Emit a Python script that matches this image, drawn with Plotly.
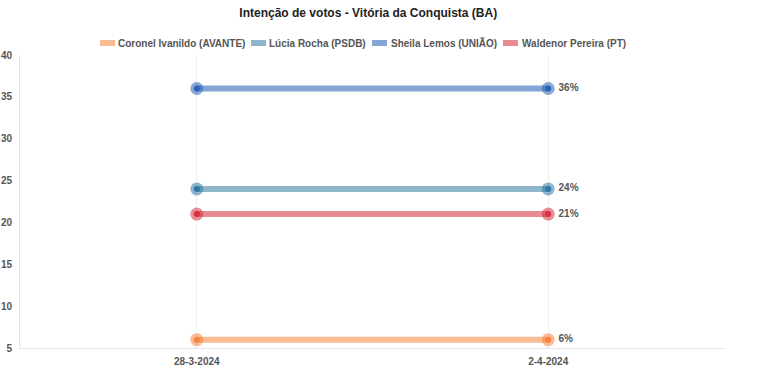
import plotly.graph_objects as go

dates = ["28-3-2024", "2-4-2024"]
candidates = ["Coronel Ivanildo (AVANTE)", "Lúcia Rocha (PSDB)", "Sheila Lemos (UNIÃO)", "Waldenor Pereira (PT)"]
coronel = [6, 6]
lucia = [24, 24]
sheila = [36, 36]
waldenor = [21, 21]
series = [coronel, lucia, sheila, waldenor]

light_colors = ["#f9bb93", "#8fb5cb", "#86a5d5", "#e98a93"]
ring_colors = ["rgba(245,132,63,0.55)", "rgba(48,121,166,0.55)", "rgba(43,98,182,0.55)", "rgba(213,49,63,0.55)"]
dark_colors = ["#f5843f", "#3079a6", "#2b62b6", "#d5313f"]

FONT = "Liberation Sans, Arial"

W, H = 768, 370
ML, MR, MT, MB = 20, 43, 55, 22
PLOT_W = W - ML - MR
PLOT_H = H - MT - MB

fig = go.Figure()
for name, vals, lc, rc, dc in zip(candidates, series, light_colors, ring_colors, dark_colors):
    fig.add_trace(go.Scatter(
        x=dates, y=vals, name=name, mode="lines",
        line=dict(color=lc, width=6),
        showlegend=False, hoverinfo="skip",
    ))
    fig.add_trace(go.Scatter(
        x=dates, y=vals, name=name, mode="markers",
        marker=dict(size=13, color=rc, line=dict(width=0)),
        showlegend=False, hoverinfo="skip",
    ))
    fig.add_trace(go.Scatter(
        x=dates, y=vals, name=name, mode="markers+text",
        marker=dict(size=6, color=dc),
        text=["", f"  {vals[-1]}%"], textposition="middle right",
        textfont=dict(family=FONT, size=10, color="#555555", weight="bold"),
        showlegend=False,
    ))

# custom legend (pixel positions of swatches and texts)
legend_swatch_px = [100, 251, 372, 503]
legend_text_px = [117, 268, 390, 521]
legend_y_px = 43
for name, lc, sx, tx in zip(candidates, light_colors, legend_swatch_px, legend_text_px):
    xa = (sx - ML) / PLOT_W
    ya = 1 + (MT - legend_y_px) / PLOT_H
    fig.add_shape(type="rect", xref="paper", yref="paper",
                  xsizemode="pixel", ysizemode="pixel",
                  xanchor=xa, yanchor=ya, x0=0, x1=15, y0=-3, y1=3,
                  fillcolor=lc, line=dict(width=0))
    fig.add_annotation(text=f"<b>{name}</b>", xref="paper", yref="paper",
                       x=(tx - ML) / PLOT_W, y=ya, xanchor="left", yanchor="middle",
                       showarrow=False, borderpad=0,
                       font=dict(family=FONT, size=10, color="#555555"))

fig.update_layout(
    width=W, height=H,
    margin=dict(l=ML, r=MR, t=MT, b=MB, autoexpand=False),
    paper_bgcolor="white", plot_bgcolor="white",
    font=dict(family=FONT, size=10, color="#555555"),
    title=dict(text="<b>Intenção de votos - Vitória da Conquista (BA)</b>",
               xref="paper", x=0.494, xanchor="center", y=1 - 13 / H, yanchor="middle",
               font=dict(size=12, color="#222222")),
    showlegend=False,
)
fig.update_xaxes(
    type="category", range=[-0.503, 1.503], automargin=False,
    showgrid=True, gridcolor="#eeeeee", gridwidth=1,
    showline=True, linecolor="#e6e6e6", linewidth=1,
    ticks="", ticklabelstandoff=4,
    tickfont=dict(size=10, color="#555555", weight="bold"),
    zeroline=False,
)
fig.update_yaxes(
    range=[5, 40], dtick=5, tick0=5, automargin=False,
    showgrid=False, showline=True, linecolor="#e6e6e6", linewidth=1,
    ticks="", ticklabelstandoff=5,
    tickfont=dict(size=10, color="#555555", weight="bold"),
    zeroline=False,
)
fig.write_html("out.html", config={"displayModeBar": False},
               post_script="document.body.style.margin='0';document.body.style.overflow='hidden';")
